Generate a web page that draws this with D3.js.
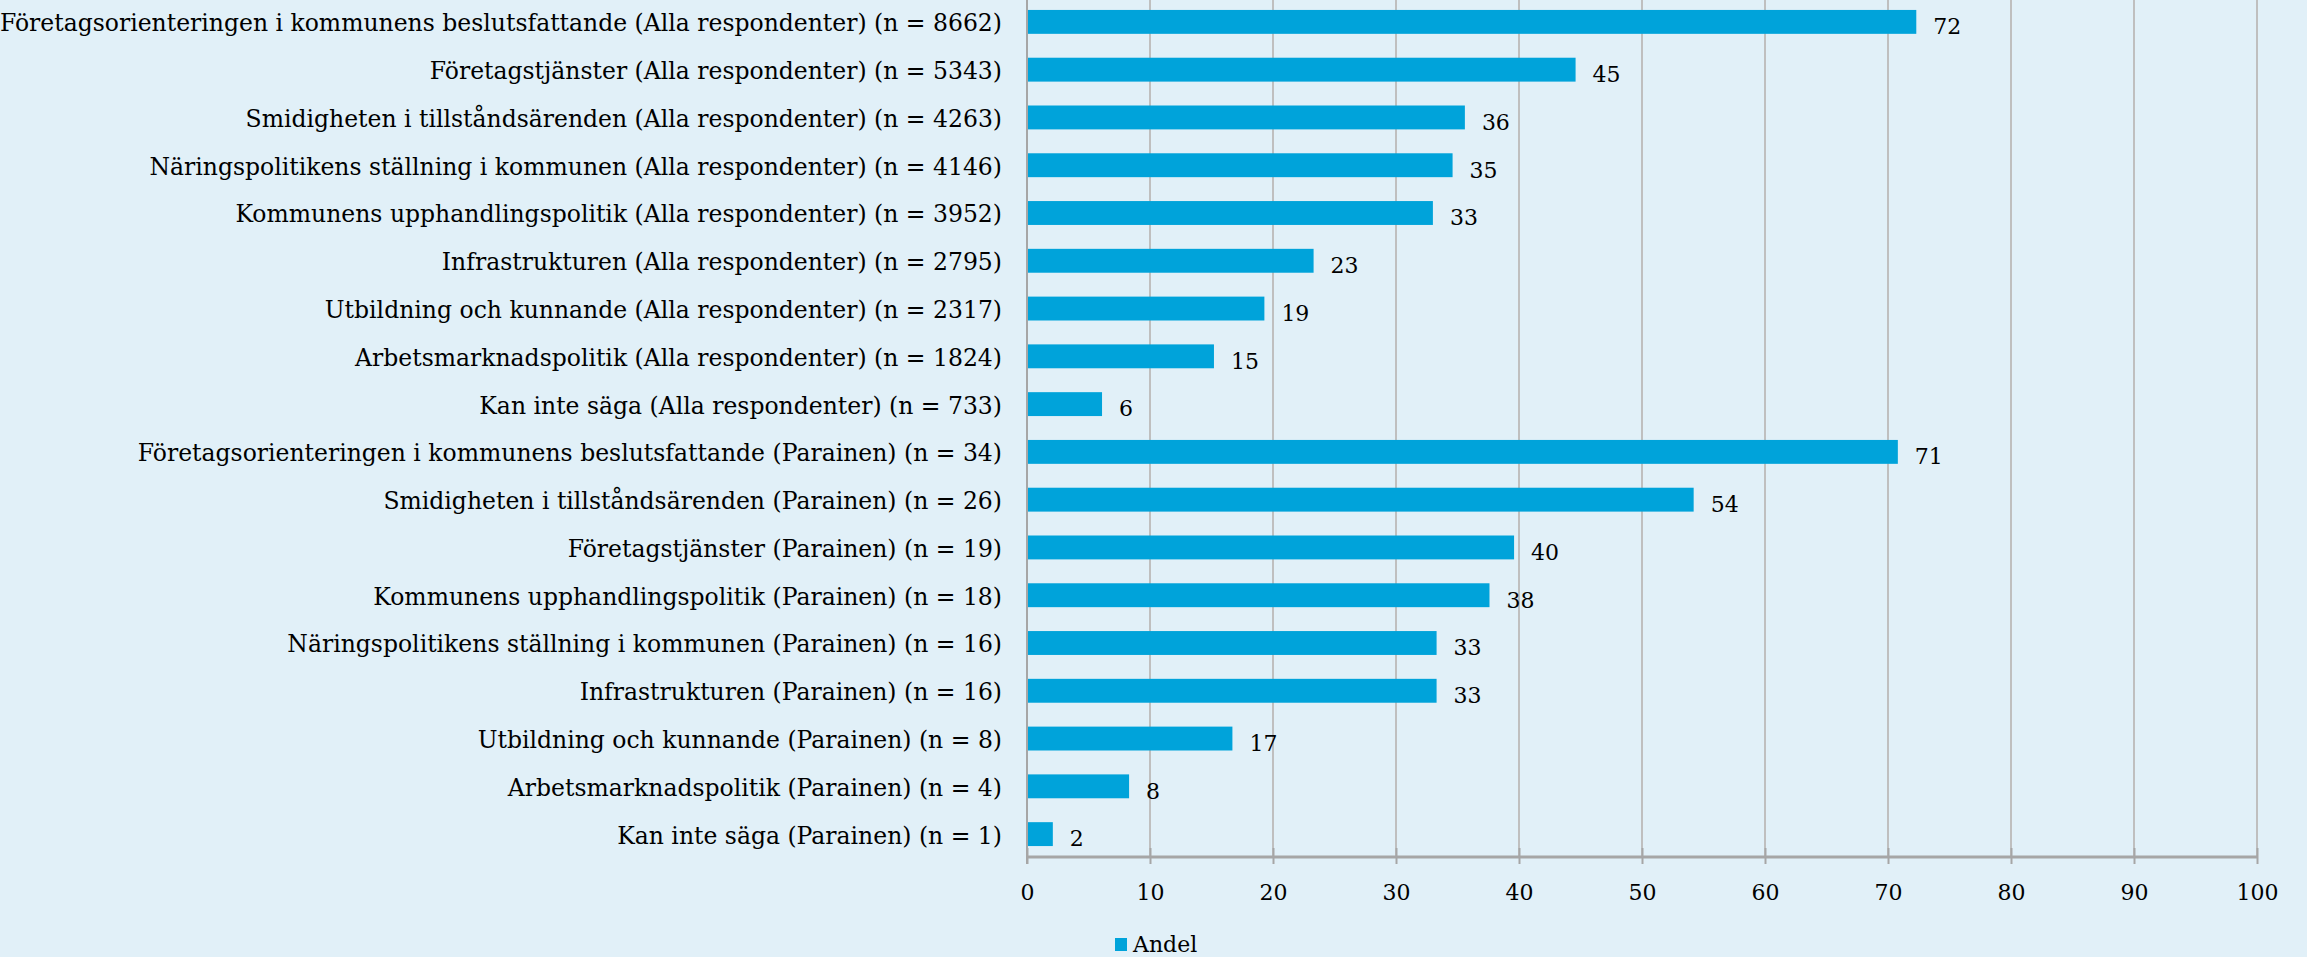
<!DOCTYPE html>
<html>
<head>
<meta charset="utf-8">
<script src="https://cdn.jsdelivr.net/npm/d3@7"></script>
<style>
  html, body { margin: 0; padding: 0; background: #e1f0f8; }
  svg { display: block; }
</style>
</head>
<body>
<svg id="chart" width="2307" height="957"></svg>
<script>
const categories = [
  "Företagsorienteringen i kommunens beslutsfattande (Alla respondenter) (n = 8662)",
  "Företagstjänster (Alla respondenter) (n = 5343)",
  "Smidigheten i tillståndsärenden (Alla respondenter) (n = 4263)",
  "Näringspolitikens ställning i kommunen (Alla respondenter) (n = 4146)",
  "Kommunens upphandlingspolitik (Alla respondenter) (n = 3952)",
  "Infrastrukturen (Alla respondenter) (n = 2795)",
  "Utbildning och kunnande (Alla respondenter) (n = 2317)",
  "Arbetsmarknadspolitik (Alla respondenter) (n = 1824)",
  "Kan inte säga (Alla respondenter) (n = 733)",
  "Företagsorienteringen i kommunens beslutsfattande (Parainen) (n = 34)",
  "Smidigheten i tillståndsärenden (Parainen) (n = 26)",
  "Företagstjänster (Parainen) (n = 19)",
  "Kommunens upphandlingspolitik (Parainen) (n = 18)",
  "Näringspolitikens ställning i kommunen (Parainen) (n = 16)",
  "Infrastrukturen (Parainen) (n = 16)",
  "Utbildning och kunnande (Parainen) (n = 8)",
  "Arbetsmarknadspolitik (Parainen) (n = 4)",
  "Kan inte säga (Parainen) (n = 1)"
];
const andel = [72.3, 44.6, 35.6, 34.6, 33.0, 23.3, 19.3, 15.2, 6.1,
               70.8, 54.2, 39.6, 37.6, 33.3, 33.3, 16.7, 8.3, 2.1];
const xTicks = [0, 10, 20, 30, 40, 50, 60, 70, 80, 90, 100];
const seriesName = "Andel";

const W = 2307, H = 957;
const mLeft = 1027, mRight = 2257, mTop = -2, mBottom = 857;
const barColor = "#00a3da";
const font = "'DejaVu Serif', 'Liberation Serif', serif";
const fontSize = 23.5;

const svg = d3.select("#chart");
svg.append("rect").attr("width", W).attr("height", H).attr("fill", "#e1f0f8");

const x = d3.scaleLinear().domain([0, 100]).range([mLeft, mRight]);
const y = d3.scaleBand().domain(categories).range([mTop, mBottom + 1]).paddingInner(0.5).paddingOuter(0.25);

// gridlines
svg.append("g").selectAll("line").data(xTicks.filter(d => d > 0)).join("line")
  .attr("x1", d => x(d)).attr("x2", d => x(d))
  .attr("y1", 0).attr("y2", mBottom)
  .attr("stroke", "#bfbfbf").attr("stroke-width", 2);

// x axis
const xAxis = d3.axisBottom(x).tickValues(xTicks).tickSize(7).tickPadding(20).tickFormat(d3.format("d"));
const gx = svg.append("g").attr("transform", `translate(0,${mBottom})`).call(xAxis);
gx.select(".domain").attr("stroke", "#a6a6a6").attr("stroke-width", 3).attr("d", `M${mLeft},0H${mRight}`);
gx.selectAll(".tick line").attr("stroke", "#a6a6a6").attr("stroke-width", 2).attr("y1", -9).attr("y2", 7);
gx.selectAll(".tick text").attr("fill", "#000").style("font-family", font).style("font-size", "22px");

// y axis line
svg.append("line").attr("x1", mLeft).attr("x2", mLeft).attr("y1", 0).attr("y2", mBottom + 7)
  .attr("stroke", "#a6a6a6").attr("stroke-width", 2);

// y axis labels
const yAxis = d3.axisLeft(y).tickSize(0).tickPadding(25);
const gy = svg.append("g").attr("transform", `translate(${mLeft},0)`).call(yAxis);
gy.select(".domain").remove();
gy.selectAll(".tick text").attr("fill", "#000").attr("dy", "0.4em")
  .style("font-family", font).style("font-size", fontSize + "px");

// bars
svg.append("g").selectAll("rect").data(andel).join("rect")
  .attr("x", x(0) + 1)
  .attr("y", (d, i) => y(categories[i]))
  .attr("width", d => x(d) - x(0) - 1)
  .attr("height", y.bandwidth())
  .attr("fill", barColor);

// value labels
svg.append("g").selectAll("text").data(andel).join("text")
  .attr("x", d => x(d) + 17)
  .attr("y", (d, i) => y(categories[i]) + y.bandwidth() / 2 + 4)
  .attr("dy", "0.38em")
  .style("font-family", font).style("font-size", "22px")
  .attr("fill", "#000")
  .text(d => d3.format(".0f")(d));

// legend
const lg = svg.append("g").attr("transform", "translate(1115,938)");
lg.append("rect").attr("width", 12).attr("height", 13).attr("fill", barColor);
lg.append("text").attr("x", 18).attr("y", 14)
  .style("font-family", font).style("font-size", "22px").attr("fill", "#000").text(seriesName);
</script>
</body>
</html>
